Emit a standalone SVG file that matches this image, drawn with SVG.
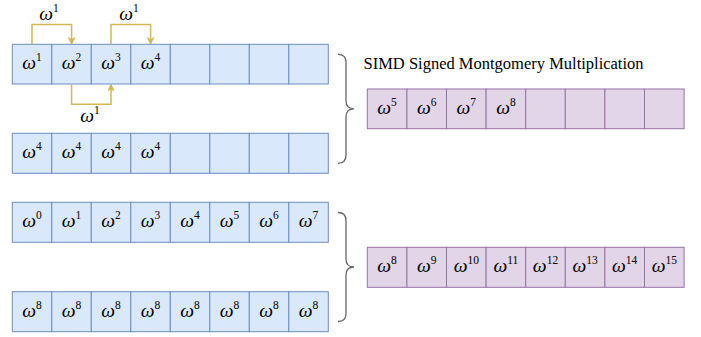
<svg xmlns="http://www.w3.org/2000/svg" width="701" height="337" viewBox="0 0 701 337">
<style>
.b{fill:#dae8fc;stroke:#6c8ebf;stroke-width:1}
.p{fill:#e1d5e7;stroke:#9673a6;stroke-width:1}
.m{font-family:"Liberation Serif","DejaVu Serif",serif;font-style:italic;font-size:19.5px;fill:#000;text-anchor:middle}
.s{font-style:normal;font-size:11.5px}
.t{font-family:"Liberation Serif","Times New Roman",serif;font-size:16.5px;fill:#000}
.a{fill:none;stroke:#d6b656;stroke-width:1.5}
.br{fill:none;stroke:#666;stroke-width:1.3}
</style>
<defs>
<marker id="ah" viewBox="0 0 10 10" refX="9" refY="5" markerWidth="4.5" markerHeight="4.5" orient="auto" markerUnits="strokeWidth">
<path d="M0,0 L10,5 L0,10 L3,5 Z" fill="#d6b656" stroke="#d6b656"/>
</marker>
</defs>
<g id="row1">
<rect class="b" x="12.3" y="44.3" width="39.5" height="39.7"/>
<rect class="b" x="51.8" y="44.3" width="39.5" height="39.7"/>
<rect class="b" x="91.3" y="44.3" width="39.5" height="39.7"/>
<rect class="b" x="130.8" y="44.3" width="39.5" height="39.7"/>
<rect class="b" x="170.3" y="44.3" width="39.5" height="39.7"/>
<rect class="b" x="209.8" y="44.3" width="39.5" height="39.7"/>
<rect class="b" x="249.3" y="44.3" width="39.5" height="39.7"/>
<rect class="b" x="288.8" y="44.3" width="39.5" height="39.7"/>
<text class="m" x="32" y="69">ω<tspan class="s" dy="-8">1</tspan></text>
<text class="m" x="71.5" y="69">ω<tspan class="s" dy="-8">2</tspan></text>
<text class="m" x="111" y="69">ω<tspan class="s" dy="-8">3</tspan></text>
<text class="m" x="150.5" y="69">ω<tspan class="s" dy="-8">4</tspan></text>
</g>
<g id="row2">
<rect class="b" x="12.3" y="133.3" width="39.5" height="40"/>
<rect class="b" x="51.8" y="133.3" width="39.5" height="40"/>
<rect class="b" x="91.3" y="133.3" width="39.5" height="40"/>
<rect class="b" x="130.8" y="133.3" width="39.5" height="40"/>
<rect class="b" x="170.3" y="133.3" width="39.5" height="40"/>
<rect class="b" x="209.8" y="133.3" width="39.5" height="40"/>
<rect class="b" x="249.3" y="133.3" width="39.5" height="40"/>
<rect class="b" x="288.8" y="133.3" width="39.5" height="40"/>
<text class="m" x="32" y="158">ω<tspan class="s" dy="-8">4</tspan></text>
<text class="m" x="71.5" y="158">ω<tspan class="s" dy="-8">4</tspan></text>
<text class="m" x="111" y="158">ω<tspan class="s" dy="-8">4</tspan></text>
<text class="m" x="150.5" y="158">ω<tspan class="s" dy="-8">4</tspan></text>
</g>
<g id="row3">
<rect class="b" x="12.3" y="202.3" width="39.5" height="40"/>
<rect class="b" x="51.8" y="202.3" width="39.5" height="40"/>
<rect class="b" x="91.3" y="202.3" width="39.5" height="40"/>
<rect class="b" x="130.8" y="202.3" width="39.5" height="40"/>
<rect class="b" x="170.3" y="202.3" width="39.5" height="40"/>
<rect class="b" x="209.8" y="202.3" width="39.5" height="40"/>
<rect class="b" x="249.3" y="202.3" width="39.5" height="40"/>
<rect class="b" x="288.8" y="202.3" width="39.5" height="40"/>
<text class="m" x="32" y="227">ω<tspan class="s" dy="-8">0</tspan></text>
<text class="m" x="71.5" y="227">ω<tspan class="s" dy="-8">1</tspan></text>
<text class="m" x="111" y="227">ω<tspan class="s" dy="-8">2</tspan></text>
<text class="m" x="150.5" y="227">ω<tspan class="s" dy="-8">3</tspan></text>
<text class="m" x="190" y="227">ω<tspan class="s" dy="-8">4</tspan></text>
<text class="m" x="229.5" y="227">ω<tspan class="s" dy="-8">5</tspan></text>
<text class="m" x="269" y="227">ω<tspan class="s" dy="-8">6</tspan></text>
<text class="m" x="308.5" y="227">ω<tspan class="s" dy="-8">7</tspan></text>
</g>
<g id="row4">
<rect class="b" x="12.3" y="291.7" width="39.5" height="40"/>
<rect class="b" x="51.8" y="291.7" width="39.5" height="40"/>
<rect class="b" x="91.3" y="291.7" width="39.5" height="40"/>
<rect class="b" x="130.8" y="291.7" width="39.5" height="40"/>
<rect class="b" x="170.3" y="291.7" width="39.5" height="40"/>
<rect class="b" x="209.8" y="291.7" width="39.5" height="40"/>
<rect class="b" x="249.3" y="291.7" width="39.5" height="40"/>
<rect class="b" x="288.8" y="291.7" width="39.5" height="40"/>
<text class="m" x="32" y="316.5">ω<tspan class="s" dy="-8">8</tspan></text>
<text class="m" x="71.5" y="316.5">ω<tspan class="s" dy="-8">8</tspan></text>
<text class="m" x="111" y="316.5">ω<tspan class="s" dy="-8">8</tspan></text>
<text class="m" x="150.5" y="316.5">ω<tspan class="s" dy="-8">8</tspan></text>
<text class="m" x="190" y="316.5">ω<tspan class="s" dy="-8">8</tspan></text>
<text class="m" x="229.5" y="316.5">ω<tspan class="s" dy="-8">8</tspan></text>
<text class="m" x="269" y="316.5">ω<tspan class="s" dy="-8">8</tspan></text>
<text class="m" x="308.5" y="316.5">ω<tspan class="s" dy="-8">8</tspan></text>
</g>
<g id="prow1">
<rect class="p" x="367.3" y="89" width="39.6" height="39.7"/>
<rect class="p" x="406.9" y="89" width="39.6" height="39.7"/>
<rect class="p" x="446.5" y="89" width="39.6" height="39.7"/>
<rect class="p" x="486.1" y="89" width="39.6" height="39.7"/>
<rect class="p" x="525.7" y="89" width="39.6" height="39.7"/>
<rect class="p" x="565.3" y="89" width="39.6" height="39.7"/>
<rect class="p" x="604.9" y="89" width="39.6" height="39.7"/>
<rect class="p" x="644.5" y="89" width="39.6" height="39.7"/>
<text class="m" x="387" y="114">ω<tspan class="s" dy="-8">5</tspan></text>
<text class="m" x="426.7" y="114">ω<tspan class="s" dy="-8">6</tspan></text>
<text class="m" x="466.3" y="114">ω<tspan class="s" dy="-8">7</tspan></text>
<text class="m" x="505.9" y="114">ω<tspan class="s" dy="-8">8</tspan></text>
</g>
<g id="prow2">
<rect class="p" x="367.3" y="247.3" width="39.6" height="40"/>
<rect class="p" x="406.9" y="247.3" width="39.6" height="40"/>
<rect class="p" x="446.5" y="247.3" width="39.6" height="40"/>
<rect class="p" x="486.1" y="247.3" width="39.6" height="40"/>
<rect class="p" x="525.7" y="247.3" width="39.6" height="40"/>
<rect class="p" x="565.3" y="247.3" width="39.6" height="40"/>
<rect class="p" x="604.9" y="247.3" width="39.6" height="40"/>
<rect class="p" x="644.5" y="247.3" width="39.6" height="40"/>
<text class="m" x="387" y="272">ω<tspan class="s" dy="-8">8</tspan></text>
<text class="m" x="426.7" y="272">ω<tspan class="s" dy="-8">9</tspan></text>
<text class="m" x="466.3" y="272">ω<tspan class="s" dy="-8">10</tspan></text>
<text class="m" x="505.9" y="272">ω<tspan class="s" dy="-8">11</tspan></text>
<text class="m" x="545.5" y="272">ω<tspan class="s" dy="-8">12</tspan></text>
<text class="m" x="585.1" y="272">ω<tspan class="s" dy="-8">13</tspan></text>
<text class="m" x="624.7" y="272">ω<tspan class="s" dy="-8">14</tspan></text>
<text class="m" x="664.3" y="272">ω<tspan class="s" dy="-8">15</tspan></text>
</g>
<g id="title">
<text class="t" x="363.5" y="68.5">SIMD Signed Montgomery Multiplication</text>
</g>
<g id="connectors">
<path class="a" d="M32,44.3 V24.5 H71.6 V43.5" marker-end="url(#ah)"/>
<path class="a" d="M111,44.3 V24.5 H150.6 V43.5" marker-end="url(#ah)"/>
<path class="a" d="M71.6,84 V104.3 H111 V85" marker-end="url(#ah)"/>
<text class="m" x="49" y="20">ω<tspan class="s" dy="-8">1</tspan></text>
<text class="m" x="129" y="20">ω<tspan class="s" dy="-8">1</tspan></text>
<text class="m" x="90" y="122">ω<tspan class="s" dy="-8">1</tspan></text>
<path class="br" d="M338,54.3 Q346,54.3 346,62.3 L346,100.8 Q346,108.8 354,108.8 Q346,108.8 346,116.8 L346,155.3 Q346,163.3 338,163.3"/>
<path class="br" d="M338,212.5 Q346,212.5 346,220.5 L346,259 Q346,267 354,267 Q346,267 346,275 L346,313.5 Q346,321.5 338,321.5"/>
</g>
</svg>
